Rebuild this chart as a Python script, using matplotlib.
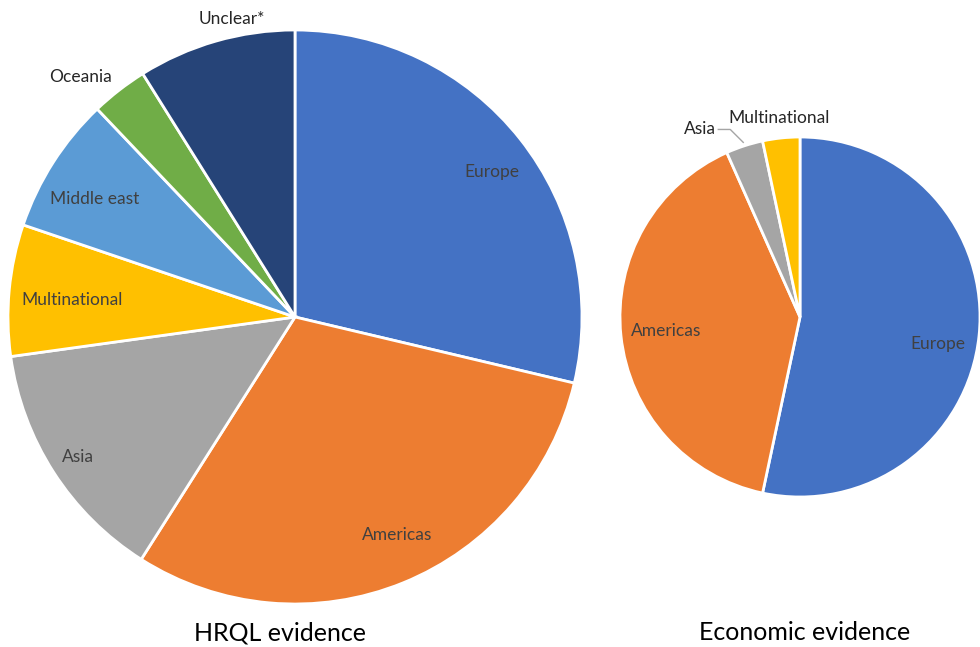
import numpy as np
import matplotlib.pyplot as plt

plt.rcParams['font.family'] = ['Lato', 'DejaVu Sans']

# HRQL evidence (share of studies, %)
hrql_regions = ['Europe', 'Americas', 'Asia', 'Multinational', 'Middle east', 'Oceania', 'Unclear*']
hrql_values = [28.7, 30.3, 13.8, 7.4, 7.7, 3.2, 8.9]
hrql_colors = ['#4472C4', '#ED7D31', '#A5A5A5', '#FFC000', '#5B9BD5', '#70AD47', '#264478']

# Economic evidence (number of studies)
econ_regions = ['Europe', 'Americas', 'Asia', 'Multinational']
econ_values = [16, 12, 1, 1]
econ_colors = ['#4472C4', '#ED7D31', '#A5A5A5', '#FFC000']

W, H = 980, 647
fig = plt.figure(figsize=(9.8, 6.47), dpi=100)
ax = fig.add_axes([0, 0, 1, 1])

def draw_pie(values, colors, center, radius):
    wedges, _ = ax.pie(values, colors=colors, startangle=90, counterclock=False,
                       center=center, radius=radius,
                       wedgeprops=dict(edgecolor='white', linewidth=2))
    return wedges

def polar(center, radius, ang, frac):
    a = np.deg2rad(ang)
    return center[0] + radius * frac * np.cos(a), center[1] + radius * frac * np.sin(a)

lab_col = '#404040'

# left pie
c1, r1 = (295, H - 317), 287
w1 = draw_pie(hrql_values, hrql_colors, c1, r1)
# (radial fraction, angle offset) for each label
lab1 = [(0.85, -2), (0.84, 3), (0.90, 0), (0.78, 1), (0.81, 2), (1.12, 4), (1.06, -4)]
for w, name, (fr, off) in zip(w1, hrql_regions, lab1):
    mid = (w.theta1 + w.theta2) / 2 + off
    x, y = polar(c1, r1, mid, fr)
    ax.text(x, y, name, ha='center', va='center', fontsize=12.5,
            color=lab_col if fr < 1 else '#262626')

# right pie
c2, r2 = (800, H - 317), 180
w2 = draw_pie(econ_values, econ_colors, c2, r2)
lab2 = [(0.78, -5), (0.75, 0), (1.18, 10), (1.11, 0)]
for w, name, (fr, off) in zip(w2, econ_regions, lab2):
    mid = (w.theta1 + w.theta2) / 2 + off
    x, y = polar(c2, r2, mid, fr)
    ax.text(x, y, name, ha='center', va='center', fontsize=12.5,
            color=lab_col if fr < 1 else '#262626')
    if name == 'Asia':
        # leader line to the slice
        mid0 = (w.theta1 + w.theta2) / 2
        ex, ey = polar(c2, r2, mid0, 1.02)
        ax.plot([x + 18, x + 30, ex], [y, y, ey], color='#A5A5A5', lw=1)

ax.text(280, H - 633, 'HRQL evidence', ha='center', va='center', fontsize=18, color='black')
ax.text(805, H - 632, 'Economic evidence', ha='center', va='center', fontsize=18, color='black')

ax.set_xlim(0, W)
ax.set_ylim(0, H)
ax.set_aspect('equal')
ax.axis('off')

fig.savefig('out.png', dpi=100)
